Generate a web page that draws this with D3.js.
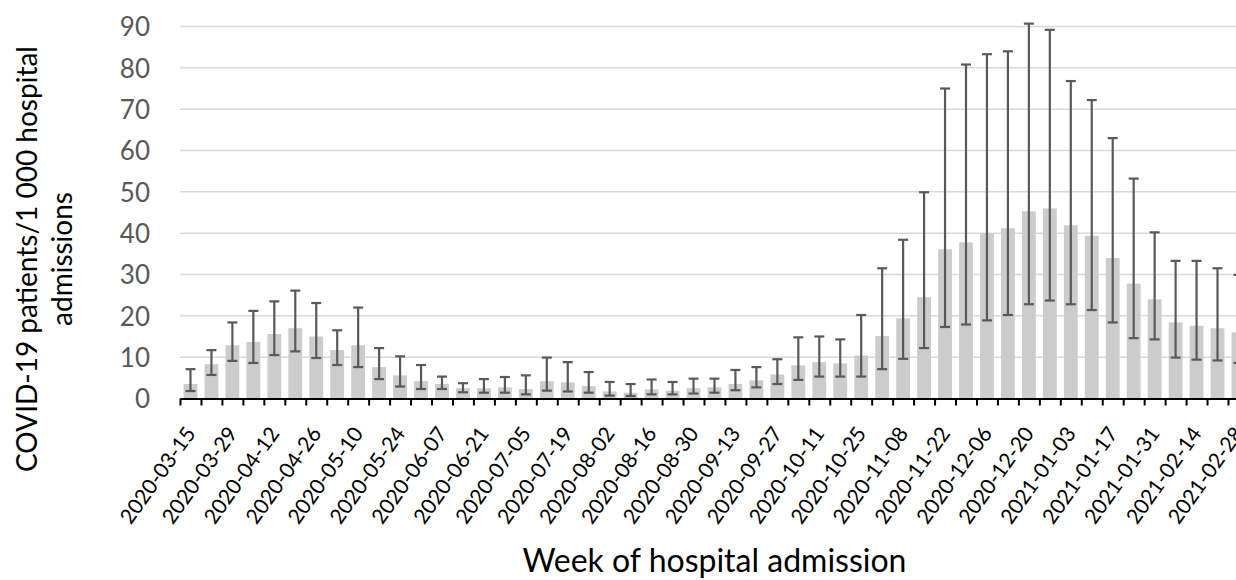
<!DOCTYPE html>
<html>
<head>
<meta charset="utf-8">
<script src="https://cdn.jsdelivr.net/npm/d3@7"></script>
<style>
  html, body { margin: 0; padding: 0; background: #fff; overflow: hidden; }
  svg { display: block; }
  text { font-family: Lato, "Open Sans", sans-serif; }
</style>
</head>
<body>
<svg id="chart" width="1236" height="580"></svg>
<script>
const weeks = [
  "2020-03-15","2020-03-22","2020-03-29","2020-04-05","2020-04-12","2020-04-19","2020-04-26",
  "2020-05-03","2020-05-10","2020-05-17","2020-05-24","2020-05-31","2020-06-07","2020-06-14",
  "2020-06-21","2020-06-28","2020-07-05","2020-07-12","2020-07-19","2020-07-26","2020-08-02",
  "2020-08-09","2020-08-16","2020-08-23","2020-08-30","2020-09-06","2020-09-13","2020-09-20",
  "2020-09-27","2020-10-04","2020-10-11","2020-10-18","2020-10-25","2020-11-01","2020-11-08",
  "2020-11-15","2020-11-22","2020-11-29","2020-12-06","2020-12-13","2020-12-20","2020-12-27",
  "2021-01-03","2021-01-10","2021-01-17","2021-01-24","2021-01-31","2021-02-07","2021-02-14",
  "2021-02-21","2021-02-28"
];
const rate = [
  3.5, 8.3, 12.9, 13.7, 15.6, 17.0, 15.0, 11.7, 12.9, 7.6, 5.6, 4.2, 3.5, 2.5, 2.5, 2.7, 2.3,
  4.2, 3.9, 3.0, 1.7, 1.4, 2.2, 1.9, 2.5, 2.7, 3.5, 4.4, 5.8, 8.0, 8.8, 8.5, 10.4, 15.1, 19.4,
  24.5, 36.1, 37.8, 40.0, 41.2, 45.3, 46.0, 41.9, 39.4, 34.0, 27.8, 24.0, 18.4, 17.6, 17.0, 16.0
];
const ciLow = [
  1.8, 5.7, 9.1, 8.6, 10.5, 11.4, 9.8, 8.1, 7.6, 4.7, 2.9, 2.3, 2.3, 1.5, 1.4, 1.4, 1.0,
  1.9, 1.7, 1.4, 0.7, 0.6, 1.0, 1.0, 1.2, 1.4, 2.0, 2.7, 3.5, 4.5, 5.3, 5.3, 5.3, 7.1, 9.6,
  12.2, 17.3, 17.9, 18.9, 20.2, 22.8, 23.7, 22.8, 21.4, 18.4, 14.6, 14.3, 9.9, 9.4, 9.2, 8.6
];
const ciHigh = [
  7.1, 11.7, 18.4, 21.2, 23.5, 26.1, 23.1, 16.5, 22.0, 12.2, 10.2, 8.1, 5.3, 3.7, 4.7, 5.2, 5.6,
  9.9, 8.8, 6.4, 4.0, 3.5, 4.6, 4.0, 4.8, 4.8, 6.9, 7.6, 9.5, 14.8, 15.0, 14.3, 20.2, 31.5, 38.4,
  49.9, 75.0, 80.8, 83.3, 84.0, 90.7, 89.2, 76.8, 72.2, 63.0, 53.2, 40.2, 33.3, 33.3, 31.5, 29.9
];
const yTicks = [0, 10, 20, 30, 40, 50, 60, 70, 80, 90];
const yTitleLines = ["COVID-19 patients/1 000 hospital", "admissions"];
const xTitle = "Week of hospital admission";

const data = weeks.map((w, i) => ({ week: w, value: rate[i], lo: ciLow[i], hi: ciHigh[i] }));

const svg = d3.select("#chart");
const left = 180, step = 20.96;
const right = left + step * weeks.length;
const y0 = 398.5, yTop = 26.5;

const x = d3.scaleBand().domain(weeks).range([left, right]).paddingInner(0.34).paddingOuter(0.17);
const y = d3.scaleLinear().domain([0, 90]).range([y0, yTop]);
const edges = d3.scaleLinear().domain([0, weeks.length]).range([left, right]);

// gridlines
svg.append("g").selectAll("line").data(yTicks.filter(t => t > 0)).join("line")
  .attr("x1", left).attr("x2", 1236)
  .attr("y1", d => y(d)).attr("y2", d => y(d))
  .attr("stroke", "#d9d9d9").attr("stroke-width", 1.5);

// y axis labels
const yAxis = svg.append("g").attr("transform", `translate(${left},0)`)
  .call(d3.axisLeft(y).tickValues(yTicks).tickSize(0).tickPadding(30).tickFormat(d3.format("d")));
yAxis.select(".domain").remove();
yAxis.selectAll("text").attr("fill", "#595959").style("font-size", "26px").attr("dy", "0.36em");

// bars
svg.append("g").selectAll("rect").data(data).join("rect")
  .attr("x", d => x(d.week)).attr("width", x.bandwidth())
  .attr("y", d => y(d.value)).attr("height", d => y(0) - y(d.value))
  .attr("fill", "#cccccc");

// error bars
const eb = svg.append("g").attr("stroke", "#595959").attr("stroke-width", 2.2).attr("fill", "none");
const cx = d => x(d.week) + x.bandwidth() / 2;
eb.selectAll("line.v").data(data).join("line").attr("class", "v")
  .attr("x1", cx).attr("x2", cx).attr("y1", d => y(d.lo)).attr("y2", d => y(d.hi));
eb.selectAll("line.t").data(data).join("line").attr("class", "t")
  .attr("x1", d => cx(d) - 5).attr("x2", d => cx(d) + 5).attr("y1", d => y(d.hi)).attr("y2", d => y(d.hi));
eb.selectAll("line.b").data(data).join("line").attr("class", "b")
  .attr("x1", d => cx(d) - 5).attr("x2", d => cx(d) + 5).attr("y1", d => y(d.lo)).attr("y2", d => y(d.lo));

// x axis (line + boundary ticks)
const xAxis = svg.append("g").attr("transform", `translate(0,${y0})`)
  .call(d3.axisBottom(edges).tickValues(d3.range(weeks.length + 1)).tickFormat("").tickSize(7).tickSizeOuter(0));
xAxis.select(".domain").attr("stroke", "#000").attr("stroke-width", 2.2);
xAxis.selectAll(".tick line").attr("stroke", "#000").attr("stroke-width", 2);

// x tick labels (every other week)
svg.append("g").selectAll("text").data(weeks.filter((w, i) => i % 2 === 0)).join("text")
  .attr("transform", d => `translate(${cx({week: d}) + 6},${y0 + 35}) rotate(-54.5)`)
  .attr("text-anchor", "end")
  .attr("fill", "#000")
  .style("font-size", "21px")
  .text(d => d);

// y title
const yt = svg.append("g");
yTitleLines.forEach((line, i) => {
  yt.append("text")
    .attr("transform", `translate(${37 + i * 35},259) rotate(-90)`)
    .attr("text-anchor", "middle")
    .attr("fill", "#000")
    .style("font-size", "28px")
    .text(line);
});

// x title
svg.append("text")
  .attr("x", (left + right) / 2).attr("y", 572)
  .attr("text-anchor", "middle")
  .attr("fill", "#000")
  .style("font-size", "32px")
  .text(xTitle);
</script>
</body>
</html>
